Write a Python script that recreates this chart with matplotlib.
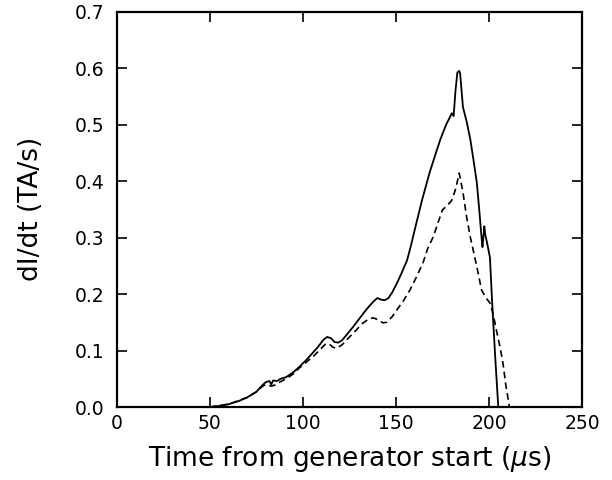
import numpy as np
import matplotlib
matplotlib.use("Agg")
import matplotlib.pyplot as plt

plt.rcParams['font.family'] = ['DejaVu Sans']
plt.rcParams['mathtext.fontset'] = 'dejavusans'

# solid trace
t_solid = [50, 55, 60, 65, 70, 75, 78, 80, 82, 83, 84, 86, 88, 91, 95, 98,
           102, 105, 108, 111, 113, 115, 117, 119, 121, 124, 127, 130, 133,
           136, 138, 140, 142, 144, 146, 148, 150.5, 153, 156, 158, 161, 164,
           168, 171, 174, 177, 179, 180, 181, 182, 183, 184, 184.5, 186, 188,
           190, 192, 193.5, 195, 196, 196.5, 197.5, 198, 199, 200.5, 202,
           203.5, 205]
didt_solid = [0.0, 0.002, 0.005, 0.010, 0.017, 0.027, 0.038, 0.044, 0.046,
              0.040, 0.047, 0.046, 0.050, 0.053, 0.062, 0.071, 0.084, 0.095,
              0.106, 0.119, 0.124, 0.122, 0.115, 0.114, 0.118, 0.130, 0.142,
              0.155, 0.168, 0.180, 0.187, 0.193, 0.190, 0.189, 0.193, 0.203,
              0.219, 0.237, 0.260, 0.285, 0.326, 0.366, 0.414, 0.445, 0.475,
              0.500, 0.513, 0.520, 0.515, 0.560, 0.592, 0.595, 0.590, 0.531,
              0.505, 0.473, 0.430, 0.396, 0.340, 0.300, 0.283, 0.320, 0.305,
              0.290, 0.265, 0.166, 0.080, 0.0]

# dashed trace
t_dash = [50, 60, 70, 75, 78, 80, 83, 85, 88, 91, 95, 98, 102, 105.4, 109,
          112, 114, 116, 118, 121, 125, 128, 132, 135, 137.7, 140, 143, 145,
          148, 150.5, 154, 157.5, 161, 164.5, 167, 170, 173, 175, 178, 180,
          182, 184, 186, 188, 190, 191.5, 194, 196, 198, 200.5, 202, 204,
          206, 207.5, 209, 211]
didt_dash = [0.0, 0.005, 0.017, 0.027, 0.036, 0.040, 0.037, 0.039, 0.045,
             0.050, 0.059, 0.069, 0.080, 0.089, 0.101, 0.111, 0.112, 0.106,
             0.104, 0.110, 0.124, 0.134, 0.148, 0.155, 0.158, 0.155, 0.149,
             0.150, 0.160, 0.172, 0.188, 0.207, 0.230, 0.255, 0.280, 0.301,
             0.330, 0.349, 0.358, 0.366, 0.385, 0.414, 0.380, 0.336, 0.300,
             0.278, 0.240, 0.207, 0.195, 0.184, 0.168, 0.136, 0.105, 0.078,
             0.040, 0.0]

fig = plt.figure(figsize=(6.12, 4.80), dpi=100)
ax = fig.add_axes([0.191, 0.152, 0.760, 0.824])

ax.plot(t_solid, didt_solid, color='black', lw=1.3)
ax.plot(t_dash, didt_dash, color='black', lw=1.2, linestyle=(0, (4, 2.5)))

ax.set_xlim(0, 250)
ax.set_ylim(0, 0.7)
ax.set_xticks(np.arange(0, 251, 50))
ax.set_yticks(np.arange(0, 0.71, 0.1))
ax.set_yticklabels(['%.1f' % v for v in np.arange(0, 0.71, 0.1)])
ax.tick_params(direction='in', top=True, right=True, length=7, width=1.2,
               labelsize=13.5)
ax.tick_params(axis='x', pad=5)
ax.tick_params(axis='y', pad=9)
for s in ax.spines.values():
    s.set_linewidth(1.6)

ax.set_xlabel(r'Time from generator start ($\mu$s)', fontsize=19, labelpad=8)
ax.set_ylabel('dI/dt (TA/s)', fontsize=19, labelpad=22)

fig.savefig('out.png', dpi=100)
